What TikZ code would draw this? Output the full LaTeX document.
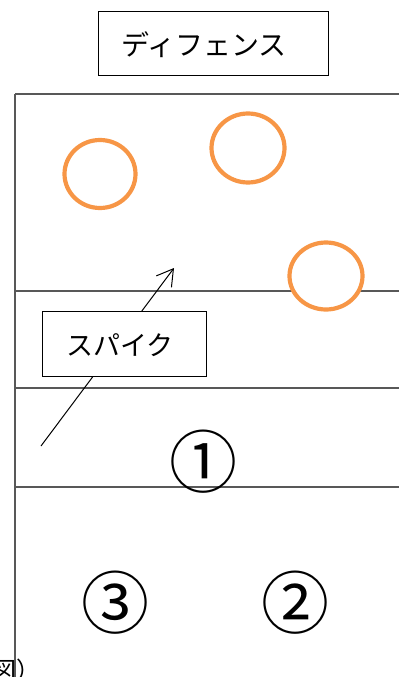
\documentclass[tikz,border=0pt]{standalone}
\usepackage{fontspec}
\newfontfamily\jpr{Noto Sans CJK JP}
\usetikzlibrary{arrows.meta}
\definecolor{courtline}{HTML}{585858}
\definecolor{player}{HTML}{F79646}
\begin{document}
\begin{tikzpicture}[x=1pt,y=-1pt,
  court/.style={draw=courtline,line width=2.7pt},
  labelbox/.style={draw=black,line width=0.9pt,fill=white,inner sep=0pt},
  labeltext/.style={inner sep=0pt,font=\jpr\fontsize{27}{27}\selectfont},
  defender/.style={draw=player,line width=4.2pt,fill=white},
  zone/.style={inner sep=0pt,font=\jpr\fontsize{68}{68}\selectfont}]
\useasboundingbox (0,0) rectangle (399,677);
% court lines
\coordinate (tl) at (15,94);
\coordinate (bl) at (15,677);
\draw[court] (15,94) -- (399,94);
\draw[court] (15,291) -- (399,291);
\draw[court] (15,388) -- (399,388);
\draw[court] (15,487) -- (399,487);
\draw[court] (tl) -- (bl);
% defenders
\draw[defender] (100,174) ellipse (35.5 and 34);
\draw[defender] (248,148) ellipse (36.5 and 34.5);
\draw[defender] (326,276) ellipse (36.5 and 33.5);
% spike
\coordinate (s0) at (41,446);
\coordinate (s1) at (174,268);
\draw[line width=1pt,-{Straight Barb[length=16pt,width=19pt,line width=1pt]}] (s0) -- (s1);
\node[labelbox,minimum width=164,minimum height=65] (spike) at (124,343.5) {};
\node[labeltext] (spiketext) at (120,345) {スパイク};
% defense label
\node[labelbox,minimum width=230,minimum height=64] (def) at (213,43) {};
\node[labeltext,font=\jpr\fontsize{28}{28}\selectfont] (deftext) at (204,45) {ディフェンス};
% zones
\node[zone] (z1) at (203,462) {①};
\node[zone] (z2) at (295,603) {②};
\node[zone] (z3) at (115,603) {③};
% caption, cut at the lower edge
\begin{scope}
\clip (0,0) rectangle (399,677);
\node[inner sep=0pt,anchor=north west,font=\jpr\fontsize{24}{24}\selectfont] (cap) at (-8,659) {図）};
\end{scope}
\end{tikzpicture}
\end{document}
